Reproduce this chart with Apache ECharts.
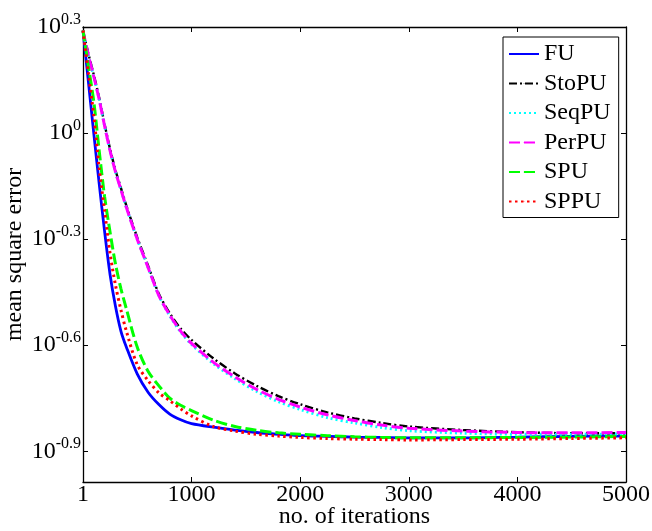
<!DOCTYPE html>
<html>
<head>
<meta charset="utf-8">
<script src="https://cdn.jsdelivr.net/npm/echarts@6/dist/echarts.min.js"></script>
<style>
  html, body { margin: 0; padding: 0; background: #fff; }
  #chart { width: 652px; height: 531px; }
</style>
</head>
<body>
<div id="chart"></div>
<script>
// iteration numbers where the curves were read
const iters = [1, 50, 100, 150, 200, 250, 300, 350, 400, 500, 600, 700, 800, 900, 1000,
  1200, 1400, 1600, 1800, 2000, 2250, 2500, 2750, 3000, 3500, 4000, 4500, 5000];

// log10 of the mean square error
const fuLog = [0.29, 0.147, 0.0, -0.143, -0.279, -0.40, -0.49, -0.56, -0.605, -0.681, -0.733, -0.768, -0.795, -0.811, -0.822,
  -0.832, -0.84, -0.847, -0.852, -0.856, -0.858, -0.86, -0.861, -0.862, -0.862, -0.86, -0.858, -0.857];
const stoLog = [0.29, 0.225, 0.165, 0.1, 0.025, -0.045, -0.105, -0.155, -0.205, -0.295, -0.375, -0.455, -0.51, -0.553, -0.585,
  -0.637, -0.68, -0.715, -0.744, -0.767, -0.79, -0.807, -0.82, -0.83, -0.84, -0.846, -0.849, -0.849];
const seqLog = [0.29, 0.22, 0.16, 0.095, 0.02, -0.05, -0.11, -0.16, -0.21, -0.30, -0.38, -0.46, -0.517, -0.563, -0.598,
  -0.652, -0.695, -0.731, -0.76, -0.782, -0.805, -0.82, -0.833, -0.842, -0.849, -0.852, -0.852, -0.851];
const perLog = [0.29, 0.22, 0.16, 0.095, 0.02, -0.05, -0.11, -0.16, -0.21, -0.30, -0.38, -0.46, -0.515, -0.56, -0.595,
  -0.648, -0.69, -0.725, -0.753, -0.775, -0.797, -0.813, -0.826, -0.835, -0.843, -0.847, -0.848, -0.847];
const spuLog = [0.29, 0.19, 0.09, -0.05, -0.18, -0.28, -0.37, -0.44, -0.497, -0.605, -0.674, -0.715, -0.75, -0.77, -0.785,
  -0.812, -0.83, -0.841, -0.848, -0.852, -0.856, -0.859, -0.861, -0.862, -0.862, -0.861, -0.86, -0.858];
const sppuLog = [0.29, 0.17, 0.05, -0.10, -0.22, -0.34, -0.43, -0.50, -0.56, -0.655, -0.70, -0.735, -0.757, -0.78, -0.80,
  -0.83, -0.843, -0.852, -0.857, -0.861, -0.864, -0.866, -0.867, -0.868, -0.867, -0.866, -0.864, -0.862];

const xTicks = [1, 1000, 2000, 3000, 4000, 5000];
const yTickExps = [-0.9, -0.6, -0.3, 0, 0.2999999];

const FONT = 'Liberation Serif';
const yTicks = yTickExps.map(e => Math.pow(10, e));
const yMin = Math.pow(10, -0.987);
const yMax = Math.pow(10, 0.3);

const toPairs = logs => iters.map((x, i) => [x, Math.pow(10, logs[i])]);

const mkLine = (name, logs, color, type, width) => ({
  name: name,
  type: 'line',
  data: toPairs(logs),
  showSymbol: false,
  symbol: 'none',
  smooth: 0.3,
  lineStyle: { color: color, type: type, width: width },
  itemStyle: { color: color },
  emphasis: { disabled: true }
});

const chart = echarts.init(document.getElementById('chart'));

const baseX = {
  type: 'value', min: 1, max: 5000,
  axisLine: { onZero: false, lineStyle: { color: '#000', width: 1.3 } },
  splitLine: { show: false }
};
const baseY = {
  type: 'log', logBase: 10, min: yMin, max: yMax,
  axisLine: { lineStyle: { color: '#000', width: 1.3 } },
  splitLine: { show: false },
  minorTick: { show: false }
};

chart.setOption({
  animation: false,
  backgroundColor: '#fff',
  grid: { left: 83, right: 26, top: 27, bottom: 49, containLabel: false, outerBoundsMode: 'none' },
  legend: {
    orient: 'vertical',
    left: 503,
    top: 37,
    itemWidth: 30,
    itemHeight: 1,
    itemGap: 5.5,
    padding: [5, 8, 4, 5],
    backgroundColor: '#fff',
    borderColor: '#000',
    borderWidth: 1,
    textStyle: { fontFamily: FONT, fontSize: 24, color: '#000', lineHeight: 24 },
    data: ['FU', 'StoPU', 'SeqPU', 'PerPU', 'SPU', 'SPPU']
  },
  xAxis: [
    Object.assign({}, baseX, {
      position: 'bottom',
      axisTick: { inside: true, length: 5, customValues: xTicks, lineStyle: { color: '#000' } },
      axisLabel: {
        customValues: xTicks, margin: 1, fontFamily: FONT, fontSize: 24, color: '#000',
        formatter: v => String(v)
      },
      name: 'no. of iterations',
      nameLocation: 'middle',
      nameGap: 23,
      nameMoveOverlap: false,
      nameTextStyle: { fontFamily: FONT, fontSize: 24, color: '#000' }
    }),
    Object.assign({}, baseX, {
      position: 'top',
      axisTick: { inside: true, length: 5, customValues: xTicks, lineStyle: { color: '#000' } },
      axisLabel: { show: false }
    })
  ],
  yAxis: [
    Object.assign({}, baseY, {
      position: 'left',
      axisTick: { inside: true, length: 5, customValues: yTicks, lineStyle: { color: '#000' } },
      axisLabel: {
        customValues: yTicks,
        margin: 2,
        formatter: function (v) {
          const e = Math.round(Math.log10(v) * 10) / 10;
          return '{b|10}{s|' + e + '}';
        },
        rich: {
          b: { fontFamily: FONT, fontSize: 24, color: '#000', lineHeight: 30 },
          s: { fontFamily: FONT, fontSize: 16, color: '#000', lineHeight: 16, verticalAlign: 'top' }
        }
      },
      name: 'mean square error',
      nameLocation: 'middle',
      nameGap: 56,
      nameMoveOverlap: false,
      nameTextStyle: { fontFamily: FONT, fontSize: 24, color: '#000' }
    }),
    Object.assign({}, baseY, {
      position: 'right',
      axisTick: { inside: true, length: 5, customValues: yTicks, lineStyle: { color: '#000' } },
      axisLabel: { show: false }
    })
  ],
  series: [
    mkLine('FU', fuLog, '#0000ff', 'solid', 2.8),
    mkLine('StoPU', stoLog, '#000000', [8, 3, 2, 3], 2.4),
    mkLine('SeqPU', seqLog, '#00ffff', [2, 3], 2.8),
    mkLine('PerPU', perLog, '#ff00ff', [11, 4], 3),
    mkLine('SPU', spuLog, '#00ff00', [11, 4], 3),
    mkLine('SPPU', sppuLog, '#ff0000', [2.5, 3.5], 3)
  ]
});
</script>
</body>
</html>
